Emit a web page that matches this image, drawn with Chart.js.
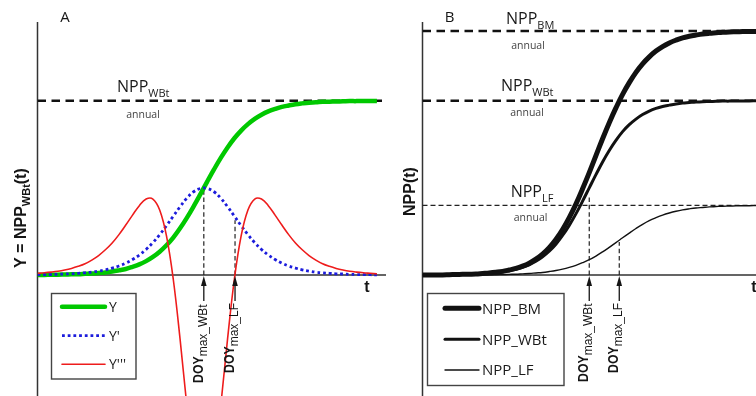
<!DOCTYPE html>
<html>
<head>
<meta charset="utf-8">
<script src="https://cdn.jsdelivr.net/npm/chart.js@4.4.1/dist/chart.umd.min.js"></script>
<style>
  html, body { margin: 0; padding: 0; background: #fff; }
  body { width: 756px; height: 396px; overflow: hidden; position: relative; }
  canvas { position: absolute; top: 0; }
  #chartA { left: 0; }
  #chartB { left: 378px; }
</style>
</head>
<body>
<canvas id="chartA" width="392" height="396"></canvas>
<canvas id="chartB" width="400" height="396"></canvas>
<script>
// time steps shared by both panels
const days = [0,2,4,6,8,10,12,14,16,18,20,22,24,26,28,30,32,34,36,38,40,42,44,46,48,50,
  52,54,56,58,60,62,64,66,68,70,72,74,76,78,80,82,84,86,88,90,92,94,96,98,100];

// panel A: Y = NPP_WBt(t) and its first and third derivative (scaled)
const yCurve = [0.001,0.001,0.002,0.002,0.003,0.004,0.005,0.007,0.009,0.012,
  0.015,0.020,0.027,0.035,0.047,0.061,0.080,0.104,0.134,0.171,
  0.215,0.268,0.328,0.394,0.464,0.536,0.606,0.672,0.732,0.785,
  0.829,0.866,0.896,0.920,0.939,0.953,0.965,0.973,0.980,0.985,
  0.989,0.991,0.994,0.995,0.996,0.997,0.998,0.998,0.999,0.999,0.999];
const yFirst = [0.002,0.002,0.003,0.004,0.006,0.007,0.010,0.013,0.017,0.023,
  0.030,0.040,0.052,0.068,0.089,0.115,0.147,0.186,0.232,0.283,
  0.338,0.392,0.441,0.478,0.497,0.497,0.478,0.441,0.392,0.338,
  0.283,0.232,0.186,0.147,0.115,0.089,0.068,0.052,0.040,0.030,
  0.023,0.017,0.013,0.010,0.007,0.006,0.004,0.003,0.002,0.002,0.001];
const yThird = [0.010,0.013,0.017,0.022,0.029,0.038,0.050,0.065,0.086,0.112,
  0.145,0.184,0.232,0.287,0.344,0.398,0.436,0.436,0.373,0.225,
  -0.024,-0.366,-0.749,-1.091,-1.293,-1.293,-1.091,-0.749,-0.366,-0.024,
  0.225,0.373,0.436,0.436,0.398,0.344,0.287,0.232,0.184,0.145,
  0.112,0.086,0.065,0.050,0.038,0.029,0.022,0.017,0.013,0.010,0.007];
const annualA = 1;
const doyA = [49, 58.2];        // DOY_max_WBt, DOY_max_LF
const doyTopA = [0.5, 0.315];

// panel B: NPP of biomass, wood+bark+twigs and leaves+fruits
const nppBM = [0.001,0.001,0.001,0.001,0.002,0.003,0.004,0.005,0.006,0.009,
  0.012,0.016,0.021,0.029,0.038,0.051,0.068,0.091,0.120,0.157,
  0.204,0.261,0.329,0.407,0.495,0.588,0.685,0.782,0.874,0.959,
  1.037,1.104,1.163,1.212,1.252,1.285,1.311,1.332,1.348,1.361,
  1.370,1.377,1.383,1.387,1.390,1.393,1.395,1.396,1.397,1.398,1.398];
const nppWBt = [0.001,0.001,0.001,0.001,0.002,0.002,0.003,0.004,0.005,0.007,
  0.010,0.013,0.018,0.025,0.033,0.044,0.059,0.079,0.105,0.137,
  0.177,0.227,0.285,0.351,0.424,0.500,0.576,0.649,0.715,0.773,
  0.823,0.863,0.895,0.921,0.941,0.956,0.967,0.975,0.982,0.987,
  0.990,0.993,0.995,0.996,0.997,0.998,0.998,0.999,0.999,0.999,1.000];
const nppLF = [0.000,0.000,0.000,0.000,0.000,0.000,0.001,0.001,0.001,0.001,
  0.002,0.002,0.003,0.004,0.005,0.007,0.009,0.012,0.015,0.020,
  0.026,0.034,0.044,0.056,0.071,0.088,0.109,0.133,0.159,0.186,
  0.214,0.241,0.267,0.291,0.312,0.329,0.344,0.356,0.366,0.374,
  0.380,0.385,0.388,0.391,0.393,0.395,0.396,0.397,0.398,0.398,0.399];
const annualB = [1.4, 1, 0.4];  // BM, WBt, LF
const doyB = [50, 59];
const doyTopB = [0.46, 0.19];

const Y_MIN = -0.694, Y_MAX = 1.452;
const X_MAX_A = 101.5, X_MAX_B = 100;

const pts = ys => days.map((d, i) => ({ x: d, y: ys[i] }));
const flat = (v, xMax) => [{ x: 0, y: v }, { x: xMax, y: v }];
const vert = (d, top) => [{ x: d, y: 0 }, { x: d, y: top }];

const SANS = '"Open Sans", sans-serif';
const ARIAL = '"Liberation Sans", Arial, sans-serif';

// draws text pieces one after another on a common baseline
function drawRich(ctx, parts, x, y) {
  let cx = x;
  parts.forEach(p => {
    ctx.font = p.font;
    const sx = p.sx || 1;
    ctx.save();
    ctx.translate(cx, y + (p.dy || 0));
    ctx.scale(sx, 1);
    ctx.fillText(p.text, 0, 0);
    ctx.restore();
    cx += ctx.measureText(p.text).width * sx;
  });
  return cx - x;
}

function nppLabel(main, sub) {
  return [
    { text: main, font: '16px ' + SANS },
    { text: sub, font: '11px ' + SANS, dy: 5 },
  ];
}

const decor = {
  id: 'decor',
  beforeDatasetsDraw(chart, args, o) {
    const { ctx, chartArea: a, scales: { y } } = chart;
    const y0 = y.getPixelForValue(0);
    ctx.save();
    ctx.strokeStyle = '#333';
    ctx.lineWidth = 1.5;
    ctx.beginPath();
    ctx.moveTo(a.left, a.top);
    ctx.lineTo(a.left, a.bottom);
    ctx.moveTo(a.left, y0);
    ctx.lineTo(a.right + o.axisExtra, y0);
    ctx.stroke();
    ctx.restore();
  },
  afterDraw(chart, args, o) {
    const { ctx, scales: { x, y } } = chart;
    const y0 = y.getPixelForValue(0);
    ctx.save();
    ctx.fillStyle = '#151515';
    ctx.strokeStyle = '#151515';
    ctx.textBaseline = 'alphabetic';
    ctx.textAlign = 'left';

    // arrows and DOY labels below the time axis
    o.marks.forEach(m => {
      const px = x.getPixelForValue(m.day);
      ctx.lineWidth = 1.3;
      ctx.beginPath();
      ctx.moveTo(px, y0 + 26);
      ctx.lineTo(px, y0 + 8);
      ctx.stroke();
      ctx.beginPath();
      ctx.moveTo(px, y0 + 1);
      ctx.lineTo(px - 2.8, y0 + 11);
      ctx.lineTo(px + 2.8, y0 + 11);
      ctx.closePath();
      ctx.fill();
      ctx.save();
      ctx.translate(px - 1, m.bottom);
      ctx.rotate(-Math.PI / 2);
      drawRich(ctx, [
        { text: 'DOY', font: 'bold 14px ' + ARIAL, sx: 0.88 },
        { text: m.sub, font: '12px ' + ARIAL, dy: 4 },
      ], 0, 0);
      ctx.restore();
    });

    // rotated axis title
    ctx.save();
    ctx.translate(o.yTitle.x, o.yTitle.y);
    ctx.rotate(-Math.PI / 2);
    drawRich(ctx, o.yTitle.parts, 0, 0);
    ctx.restore();

    // panel letter and time symbol
    ctx.textAlign = 'center';
    ctx.textBaseline = 'middle';
    ctx.font = '15px ' + SANS;
    ctx.fillText(o.letter.text, o.letter.x, o.letter.y);
    ctx.font = 'bold 16px ' + ARIAL;
    ctx.fillText('t', o.tPos.x, o.tPos.y);

    // annual NPP labels
    o.levels.forEach(l => {
      ctx.textAlign = 'left';
      ctx.textBaseline = 'alphabetic';
      ctx.fillStyle = '#1a1a1a';
      drawRich(ctx, nppLabel('NPP', l.sub), l.x, l.y);
      ctx.textAlign = 'center';
      ctx.textBaseline = 'middle';
      ctx.fillStyle = '#444';
      ctx.font = '10.5px ' + SANS;
      ctx.fillText('annual', l.ax, l.ay);
    });

    // legend box
    const lg = o.legend;
    ctx.strokeStyle = '#444';
    ctx.lineWidth = 1.4;
    ctx.strokeRect(lg.box[0], lg.box[1], lg.box[2], lg.box[3]);
    lg.items.forEach((label, i) => {
      const ds = chart.data.datasets.find(d => d.label === label);
      const ry = lg.rows[i];
      ctx.save();
      ctx.strokeStyle = ds.borderColor;
      ctx.lineWidth = ds.borderWidth;
      ctx.setLineDash(ds.borderDash || []);
      ctx.lineCap = ds.borderDash ? 'butt' : 'round';
      ctx.beginPath();
      ctx.moveTo(lg.lineX[0], ry);
      ctx.lineTo(lg.lineX[1], ry);
      ctx.stroke();
      ctx.restore();
      ctx.fillStyle = '#1a1a1a';
      ctx.font = lg.font;
      ctx.textAlign = 'left';
      ctx.textBaseline = 'middle';
      ctx.fillText(label, lg.textX, ry + 1);
    });
    ctx.restore();
  },
};

function options(xMax, pad, decorOpts) {
  return {
    responsive: false,
    animation: false,
    devicePixelRatio: 1,
    layout: { padding: pad },
    scales: {
      x: { type: 'linear', min: 0, max: xMax, display: false },
      y: { min: Y_MIN, max: Y_MAX, display: false },
    },
    elements: {
      point: { radius: 0 },
      line: { tension: 0.4, borderJoinStyle: 'round' },
    },
    plugins: { legend: { display: false }, tooltip: { enabled: false }, decor: decorOpts },
  };
}

const dashedThick = { borderColor: '#111', borderWidth: 2.6, borderDash: [8.5, 5.5], tension: 0 };
const dashedThin = { borderColor: '#222', borderWidth: 1.2, borderDash: [4.5, 2.8], tension: 0 };

new Chart(document.getElementById('chartA'), {
  type: 'line',
  data: {
    datasets: [
      { label: "Y'''", data: pts(yThird), borderColor: '#ee1c1c', borderWidth: 1.6, order: 1 },
      { label: "Y'", data: pts(yFirst), borderColor: '#1c1cdc', borderWidth: 2.8, borderDash: [2.8, 2.9], order: 2 },
      { label: 'Y', data: pts(yCurve), borderColor: '#00c800', borderWidth: 4.5, order: 3 },
      { label: 'annual', data: flat(annualA, X_MAX_A), ...dashedThick, order: 4 },
      { label: 'doyWBt', data: vert(doyA[0], doyTopA[0]), ...dashedThin, order: 5 },
      { label: 'doyLF', data: vert(doyA[1], doyTopA[1]), ...dashedThin, order: 5 },
    ],
  },
  options: options(X_MAX_A, { left: 37.5, right: 10, top: 22, bottom: 0 }, {
    axisExtra: 4,
    letter: { text: 'A', x: 65, y: 18 },
    tPos: { x: 367, y: 288 },
    yTitle: { x: 25.5, y: 268, parts: [
      { text: 'Y = NPP', font: 'bold 16px ' + ARIAL },
      { text: 'WBt', font: 'bold 11px ' + ARIAL, dy: 4 },
      { text: '(t)', font: 'bold 16px ' + ARIAL },
    ] },
    levels: [{ sub: 'WBt', x: 117, y: 92, ax: 143, ay: 115 }],
    marks: [
      { day: doyA[0], bottom: 383, sub: 'max_WBt' },
      { day: doyA[1], bottom: 373, sub: 'max_LF' },
    ],
    legend: {
      box: [51.5, 293.5, 84.5, 85.5], lineX: [62, 105], textX: 109,
      rows: [306.7, 335.7, 364.3], font: '14px ' + SANS,
      items: ['Y', "Y'", "Y'''"],
    },
  }),
  plugins: [decor],
});

new Chart(document.getElementById('chartB'), {
  type: 'line',
  data: {
    datasets: [
      { label: 'NPP_LF', data: pts(nppLF), borderColor: '#111', borderWidth: 1.4, order: 1 },
      { label: 'NPP_WBt', data: pts(nppWBt), borderColor: '#111', borderWidth: 3, order: 2 },
      { label: 'NPP_BM', data: pts(nppBM), borderColor: '#111', borderWidth: 5, order: 3 },
      { label: 'annualBM', data: flat(annualB[0], X_MAX_B), ...dashedThick, order: 4 },
      { label: 'annualWBt', data: flat(annualB[1], X_MAX_B), ...dashedThick, order: 4 },
      { label: 'annualLF', data: flat(annualB[2], X_MAX_B), borderColor: '#222', borderWidth: 1.4, borderDash: [5, 3], tension: 0, order: 4 },
      { label: 'doyWBt', data: vert(doyB[0], doyTopB[0]), ...dashedThin, order: 5 },
      { label: 'doyLF', data: vert(doyB[1], doyTopB[1]), ...dashedThin, order: 5 },
    ],
  },
  options: options(X_MAX_B, { left: 44.5, right: 22, top: 22, bottom: 0 }, {
    axisExtra: 20,
    letter: { text: 'B', x: 71.7, y: 18 },
    tPos: { x: 376, y: 288 },
    yTitle: { x: 36.5, y: 216, parts: [
      { text: 'NPP(t)', font: 'bold 16px ' + ARIAL },
    ] },
    levels: [
      { sub: 'BM', x: 128, y: 24, ax: 150, ay: 46 },
      { sub: 'WBt', x: 123, y: 90.5, ax: 149, ay: 113 },
      { sub: 'LF', x: 132.7, y: 196.5, ax: 152.6, ay: 218 },
    ],
    marks: [
      { day: doyB[0], bottom: 382, sub: 'max_WBt' },
      { day: doyB[1], bottom: 373, sub: 'max_LF' },
    ],
    legend: {
      box: [49.5, 293.5, 136.5, 92], lineX: [67, 101], textX: 104,
      rows: [308.3, 339.3, 370], font: '15px ' + SANS,
      items: ['NPP_BM', 'NPP_WBt', 'NPP_LF'],
    },
  }),
  plugins: [decor],
});
</script>
</body>
</html>
